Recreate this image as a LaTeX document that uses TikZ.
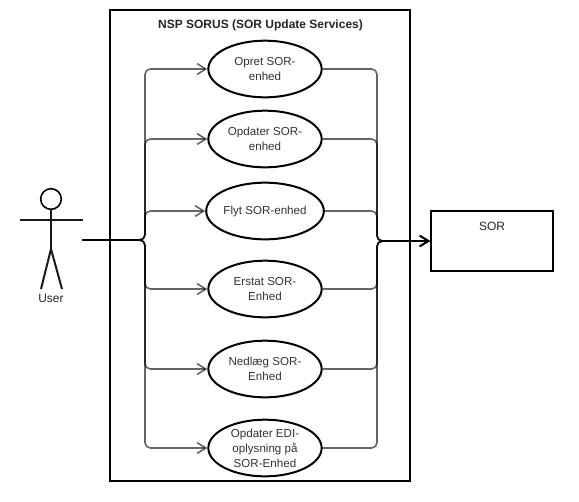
\documentclass[tikz,border=0pt]{standalone}
\usepackage{fontspec}
\setmainfont{Liberation Sans}
\usetikzlibrary{arrows.meta, shapes.geometric}
\tikzset{
    usecase/.style={draw, line width=1.5pt, ellipse, fill=white, minimum width=85pt, minimum height=42.5pt, inner sep=0pt, align=center, font=\fontsize{8.7}{11.25}\selectfont, text=black!80},
    sysbox/.style={draw, line width=1.5pt, rectangle, minimum width=91.5pt, minimum height=45pt},
    flow/.style={draw=black, draw opacity=0.6, line width=1.2pt, rounded corners=4pt},
    flowtip/.style={-{Straight Barb[length=6.5pt, width=8pt, line width=1.2pt]}},
    figure/.style={line width=1.5pt, black!90},
    caption/.style={font=\fontsize{9}{11}\selectfont, text=black!85}
}
\begin{document}
\begin{tikzpicture}[x=0.75pt, y=-0.75pt]
    \useasboundingbox (0,0) rectangle (579,501);

    % System boundary
    \node[draw, line width=1.5pt, minimum width=225pt, minimum height=353.25pt, inner sep=0pt] (sorus) at (260,245.5) {};
    \node[caption] (sorustitle) at (260.5,25) {\bfseries NSP SORUS (SOR Update Services)};

    % Use cases
    \node[usecase] (opret) at (265,69) {Opret SOR-\\enhed};
    \node[usecase] (opdater) at (265,139) {Opdater SOR-\\enhed};
    \node[usecase] (flyt) at (265,211) {Flyt SOR-enhed};
    \node[usecase] (erstat) at (265,289) {Erstat SOR-\\Enhed};
    \node[usecase] (nedlaeg) at (265,369) {Nedlæg SOR-\\Enhed};
    \node[usecase] (edi) at (265,448) {Opdater EDI-\\oplysning på\\SOR-Enhed};

    % External system
    \node[sysbox] (sor) at (492,241) {};
    \node[caption] (sorlabel) at (492,226) {SOR};

    % Actor
    \node[draw, circle, line width=1.2pt, minimum size=15.5pt, inner sep=0pt] (head) at (51,199) {};
    \coordinate (hip) at (51,249);
    \coordinate (armleft) at (20,220);
    \coordinate (armright) at (83,220);
    \coordinate (footleft) at (41,289);
    \coordinate (footright) at (62,289);
    \draw[figure] (head) -- (hip);
    \draw[figure] (armleft) -- (armright);
    \draw[figure] (footleft) -- (hip) -- (footright);
    \node[caption] (user) at (51,298.5) {User};

    % Lines from the actor
    \coordinate (userhand) at (82,240);
    \coordinate (trunkleft) at (145,240);
    \draw[flow, flowtip] (userhand) -- (trunkleft) -- (trunkleft |- opret.west) -- (opret.west);
    \draw[flow, flowtip] (userhand) -- (trunkleft) -- (trunkleft |- opdater.west) -- (opdater.west);
    \draw[flow, flowtip] (userhand) -- (trunkleft) -- (trunkleft |- flyt.west) -- (flyt.west);
    \draw[flow, flowtip] (userhand) -- (trunkleft) -- (trunkleft |- erstat.west) -- (erstat.west);
    \draw[flow, flowtip] (userhand) -- (trunkleft) -- (trunkleft |- nedlaeg.west) -- (nedlaeg.west);
    \draw[flow, flowtip] (userhand) -- (trunkleft) -- (trunkleft |- edi.west) -- (edi.west);

    % Lines to SOR
    \coordinate (trunkright) at (377,241);
    \draw[flow, flowtip] (opret.east) -- (trunkright |- opret.east) -- (trunkright) -- (sor.west);
    \draw[flow, flowtip] (opdater.east) -- (trunkright |- opdater.east) -- (trunkright) -- (sor.west);
    \draw[flow, flowtip] (flyt.east) -- (trunkright |- flyt.east) -- (trunkright) -- (sor.west);
    \draw[flow, flowtip] (erstat.east) -- (trunkright |- erstat.east) -- (trunkright) -- (sor.west);
    \draw[flow, flowtip] (nedlaeg.east) -- (trunkright |- nedlaeg.east) -- (trunkright) -- (sor.west);
    \draw[flow, flowtip] (edi.east) -- (trunkright |- edi.east) -- (trunkright) -- (sor.west);
\end{tikzpicture}
\end{document}
